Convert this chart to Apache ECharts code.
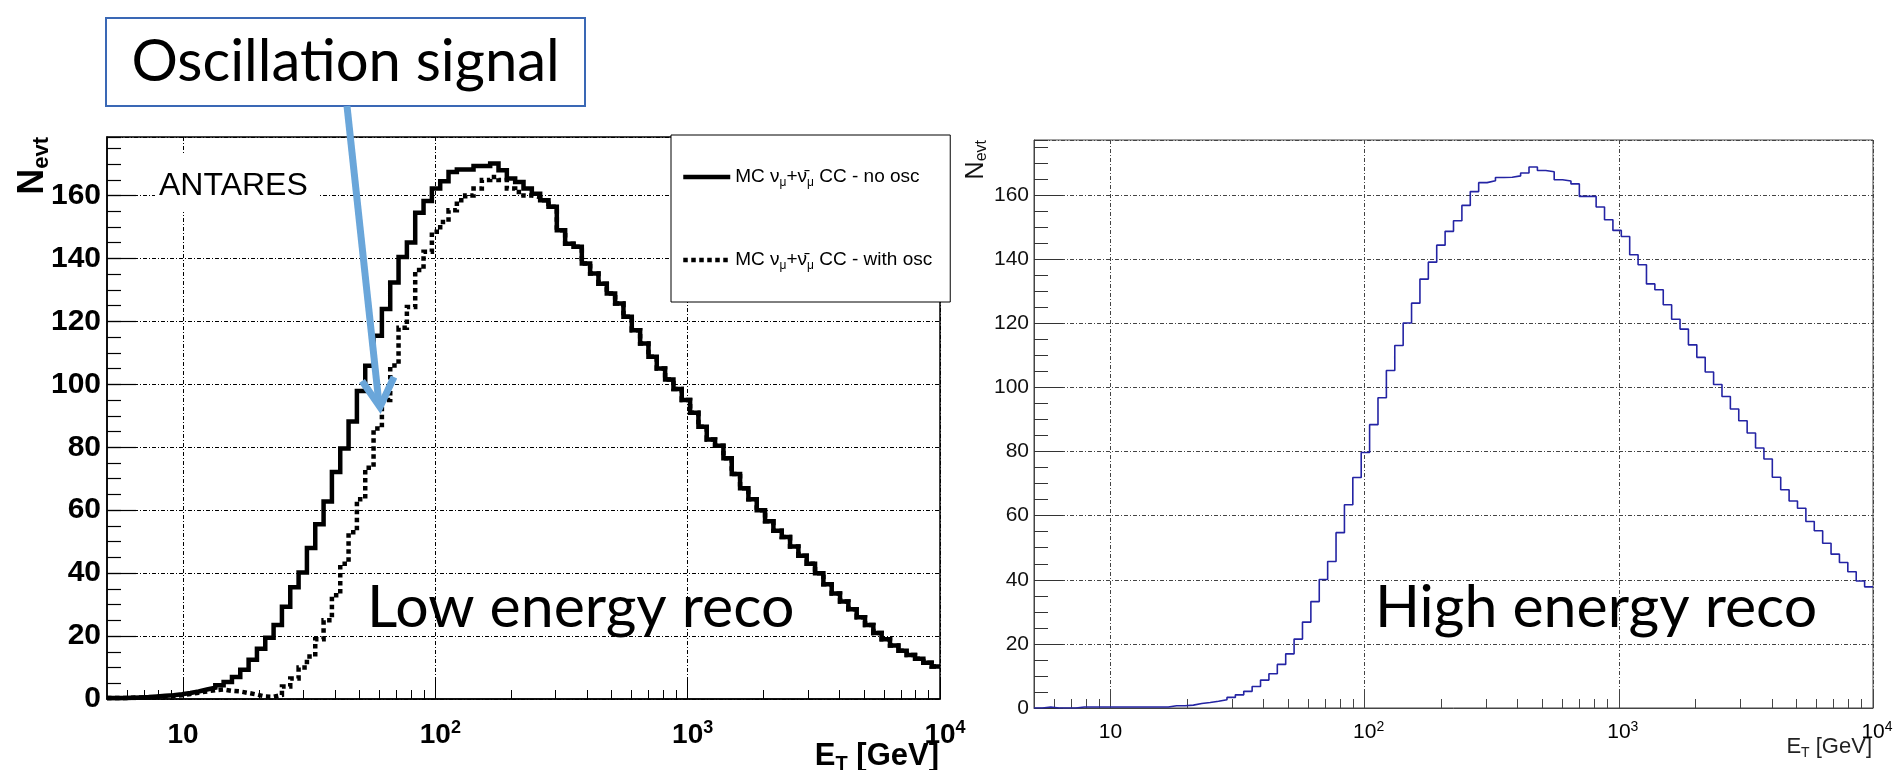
<!DOCTYPE html>
<html>
<head>
<meta charset="utf-8">
<script src="https://cdn.jsdelivr.net/npm/echarts/dist/echarts.min.js"></script>
<style>
html,body{margin:0;padding:0;background:#fff;}
#chart{width:1899px;height:770px;}
</style>
</head>
<body>
<div id="chart"></div>
<script>
// ---------- binning (100 log-spaced bins from 5 GeV to 10 TeV) ----------
const binCount = 100;
const eMin = 5;
const eMax = 10000;

// ---------- tick values ----------
const majorTicksX = [10, 100, 1000, 10000];
const minorTicksX = [6, 7, 8, 9, 20, 30, 40, 50, 60, 70, 80, 90,
  200, 300, 400, 500, 600, 700, 800, 900,
  2000, 3000, 4000, 5000, 6000, 7000, 8000, 9000];

// ---------- left panel: low energy reco ----------
const noOscName = 'MC \u03bd\u03bc+\u03bd\u0304\u03bc CC - no osc';
const withOscName = 'MC \u03bd\u03bc+\u03bd\u0304\u03bc CC - with osc';

const noOsc = [
  0.3, 0.3, 0.4, 0.5, 0.6, 0.8, 1.0, 1.2, 1.5, 1.9,
  2.4, 3.0, 3.6, 4.4, 5.4, 7.0, 9.3, 12.5, 16.0, 19.5,
  23.5, 29.3, 35.5, 40.2, 48.0, 55.5, 62.8, 72.1, 79.6, 88.2,
  97.9, 105.9, 115.4, 123.9, 132.4, 140.5, 145.1, 154.5, 158.3, 162.2,
  164.5, 167.5, 168.3, 168.3, 169.4, 169.4, 170.2, 168.0, 165.4, 164.3,
  162.2, 160.6, 158.5, 156.4, 149.0, 144.7, 143.7, 138.4, 135.2, 132.0,
  128.9, 125.7, 121.5, 117.2, 113.0, 108.8, 105.0, 101.5, 98.5, 95.0,
  91.0, 86.5, 82.5, 80.5, 76.5, 71.5, 67.0, 63.5, 60.0, 56.5,
  53.5, 51.5, 48.5, 45.5, 43.0, 40.0, 36.5, 33.5, 31.0, 28.5,
  26.0, 23.5, 21.0, 19.0, 17.0, 15.3, 14.0, 12.8, 11.5, 10.3
];

const withOsc = [
  0.3, 0.3, 0.4, 0.5, 0.5, 0.6, 0.8, 1.0, 1.2, 1.6,
  2.0, 2.4, 2.8, 3.0, 2.6, 2.4, 1.9, 1.4, 0.8, 0.7,
  1.3, 4.0, 6.5, 10.0, 13.5, 19.0, 25.0, 33.0, 43.0, 53.0,
  63.5, 73.5, 86.0, 95.0, 106.0, 118.0, 124.6, 136.3, 142.1, 148.5,
  151.6, 155.3, 158.5, 160.0, 162.2, 164.9, 165.9, 164.9, 162.2, 161.1,
  160.0, 159.5, 158.5, 156.4, 149.0, 144.7, 143.7, 138.4, 135.2, 132.0,
  128.9, 125.7, 121.5, 117.2, 113.0, 108.8, 105.0, 101.5, 98.5, 95.0,
  91.0, 86.5, 82.5, 80.5, 76.5, 71.5, 67.0, 63.5, 60.0, 56.5,
  53.5, 51.5, 48.5, 45.5, 43.0, 40.0, 36.5, 33.5, 31.0, 28.5,
  26.0, 23.5, 21.0, 19.0, 17.0, 15.3, 14.0, 12.8, 11.5, 10.3
];

// ---------- right panel: high energy reco ----------
const highEnergy = [
  0, 0.3, 0, 0, 0, 0.3, 0.3, 0.3, 0.3, 0.3,
  0.3, 0.3, 0.3, 0.3, 0.3, 0.3, 0.7, 0.7, 0.9, 1.4,
  1.7, 2.1, 2.6, 3.3, 4.1, 5.2, 6.7, 8.7, 10.7, 13.6,
  16.9, 21.5, 26.8, 33.2, 40.1, 45.7, 54.7, 63.4, 71.9, 79.7,
  88.4, 96.8, 105.3, 113.1, 120.1, 126.3, 133.8, 139.1, 144.4, 148.7,
  152.0, 156.8, 161.1, 163.9, 164.5, 165.5, 165.6, 166.0, 166.9, 168.8,
  167.7, 167.3, 164.8, 164.4, 163.5, 159.6, 159.6, 156.3, 152.3, 149.0,
  147.1, 141.4, 138.3, 132.3, 130.5, 125.8, 121.3, 118.2, 113.3, 109.4,
  104.8, 100.9, 97.2, 93.3, 89.6, 85.8, 81.1, 77.7, 72.0, 68.1,
  64.6, 62.3, 58.2, 55.3, 51.4, 48.0, 45.4, 42.5, 39.6, 37.8
];

// ---------- helpers ----------
const edges = Array.from({length: binCount + 1}, (_, i) => eMin * Math.pow(eMax / eMin, i / binCount));
function toSteps(vals) {
  const pts = vals.map((v, i) => [edges[i], v]);
  pts.push([edges[binCount], vals[vals.length - 1]]);
  return pts;
}

const FONT = "'Liberation Sans', Arial, Helvetica, sans-serif";
const DASHDOT = [4, 2, 1, 2];

function expFormatter(v) {
  const p = Math.round(Math.log10(v));
  if (p === 1) return '{b|10}';
  return '{sp| }{b|10}{s|' + p + '}';
}

const L = {left: 107, top: 137, width: 833, height: 562, ymax: 178.6};
const R = {left: 1034, top: 140, width: 839, height: 568, ymax: 177.2};

const richL = {
  b: {fontFamily: FONT, fontWeight: 'bold', fontSize: 28, lineHeight: 32, color: '#000'},
  s: {fontFamily: FONT, fontWeight: 'bold', fontSize: 18, lineHeight: 20, verticalAlign: 'top', color: '#000'},
  sp: {fontSize: 18, width: 10}
};
const richR = {
  b: {fontFamily: FONT, fontSize: 21, lineHeight: 24, color: '#000'},
  s: {fontFamily: FONT, fontSize: 14, lineHeight: 14, verticalAlign: 'top', color: '#000'},
  sp: {fontSize: 14, width: 8}
};

const chart = echarts.init(document.getElementById('chart'), null, {renderer: 'canvas'});

const option = {
  animation: false,
  backgroundColor: '#fff',
  grid: [
    {left: L.left, top: L.top, width: L.width, height: L.height, show: true, borderColor: '#000', borderWidth: 1.5, backgroundColor: 'transparent', containLabel: false, outerBoundsMode: 'none'},
    {left: R.left, top: R.top, width: R.width, height: R.height, show: true, borderColor: '#444', borderWidth: 1, backgroundColor: 'transparent', containLabel: false, outerBoundsMode: 'none'}
  ],
  legend: {
    data: [noOscName, withOscName],
    orient: 'vertical',
    left: 671, top: 135,
    itemWidth: 47, itemHeight: 14, itemGap: 59,
    padding: [30, 18, 30, 10],
    borderColor: '#000', borderWidth: 1, backgroundColor: '#fff',
    selectedMode: false,
    itemStyle: {opacity: 0},
    lineStyle: {width: 4.5},
    formatter: function (name) {
      const tail = name === noOscName ? 'no osc' : 'with osc';
      return 'MC \u03bd{m|\u03bc}+\u03bd\u0304{m|\u03bc} CC - ' + tail;
    },
    textStyle: {
      fontFamily: FONT, fontSize: 19, lineHeight: 24, color: '#000',
      rich: {m: {fontFamily: FONT, fontSize: 12, lineHeight: 14, verticalAlign: 'bottom', color: '#000'}}
    }
  },
  xAxis: [
    { // left major
      type: 'log', logBase: 10, gridIndex: 0, min: eMin, max: eMax, position: 'bottom',
      axisLine: {show: true, onZero: false, lineStyle: {color: '#000', width: 1.5}},
      axisTick: {show: true, inside: true, length: 18, customValues: majorTicksX, lineStyle: {color: '#000', width: 1}},
      axisLabel: {show: true, customValues: majorTicksX, margin: 20, formatter: expFormatter, rich: richL},
      splitLine: {show: true, lineStyle: {color: '#000', width: 1, type: DASHDOT}},
      minorTick: {show: false}, minorSplitLine: {show: false},
      name: '{e|E}{t|T}{e| [GeV]}', nameLocation: 'end', nameGap: -1, nameMoveOverlap: false,
      nameTextStyle: {align: 'right', verticalAlign: 'top', padding: [40, 0, 0, 0],
        rich: {e: {fontFamily: FONT, fontWeight: 'bold', fontSize: 31, lineHeight: 35, color: '#000'},
               t: {fontFamily: FONT, fontWeight: 'bold', fontSize: 20, lineHeight: 22, verticalAlign: 'bottom', color: '#000'}}}
    },
    { // left minor
      type: 'log', logBase: 10, gridIndex: 0, min: eMin, max: eMax, position: 'bottom',
      axisLine: {show: false, onZero: false},
      axisTick: {show: true, inside: true, length: 9, customValues: minorTicksX, lineStyle: {color: '#000', width: 1}},
      axisLabel: {show: false}, splitLine: {show: false}
    },
    { // right major
      type: 'log', logBase: 10, gridIndex: 1, min: eMin, max: eMax, position: 'bottom',
      axisLine: {show: true, onZero: false, lineStyle: {color: '#444', width: 1}},
      axisTick: {show: true, inside: true, length: 18, customValues: majorTicksX, lineStyle: {color: '#444', width: 1}},
      axisLabel: {show: true, customValues: majorTicksX, margin: 12, formatter: expFormatter, rich: richR},
      splitLine: {show: true, lineStyle: {color: '#444', width: 1, type: DASHDOT}},
      name: '{e|E}{t|T}{e| [GeV]}', nameLocation: 'end', nameGap: -1, nameMoveOverlap: false,
      nameTextStyle: {align: 'right', verticalAlign: 'top', padding: [26, 0, 0, 0],
        rich: {e: {fontFamily: FONT, fontSize: 22, lineHeight: 26, color: '#222'},
               t: {fontFamily: FONT, fontSize: 14, lineHeight: 16, verticalAlign: 'bottom', color: '#222'}}}
    },
    { // right minor
      type: 'log', logBase: 10, gridIndex: 1, min: eMin, max: eMax, position: 'bottom',
      axisLine: {show: false, onZero: false},
      axisTick: {show: true, inside: true, length: 9, customValues: minorTicksX, lineStyle: {color: '#444', width: 1}},
      axisLabel: {show: false}, splitLine: {show: false}
    }
  ],
  yAxis: [
    { // left major
      type: 'value', gridIndex: 0, min: 0, max: L.ymax, interval: 20, position: 'left',
      axisLine: {show: true, onZero: false, lineStyle: {color: '#000', width: 1.5}},
      axisTick: {show: true, inside: true, length: 29, lineStyle: {color: '#000', width: 1.2}},
      axisLabel: {show: true, showMaxLabel: false, margin: 6, fontFamily: FONT, fontWeight: 'bold', fontSize: 30, color: '#000'},
      splitLine: {show: true, lineStyle: {color: '#000', width: 1, type: DASHDOT}},
      name: '{n|N}{s|evt}', nameLocation: 'end', nameRotate: 90, nameGap: 0, nameMoveOverlap: false,
      nameTextStyle: {align: 'right', verticalAlign: 'bottom', padding: [0, 0, 54, 0],
        rich: {n: {fontFamily: FONT, fontWeight: 'bold', fontSize: 36, lineHeight: 40, color: '#000'},
               s: {fontFamily: FONT, fontWeight: 'bold', fontSize: 22, lineHeight: 30, verticalAlign: 'bottom', color: '#000'}}}
    },
    { // left minor
      type: 'value', gridIndex: 0, min: 0, max: L.ymax, interval: 5, position: 'left',
      axisLine: {show: false, onZero: false},
      axisTick: {show: true, inside: true, length: 14, lineStyle: {color: '#000', width: 1.2}},
      axisLabel: {show: false}, splitLine: {show: false}
    },
    { // right major
      type: 'value', gridIndex: 1, min: 0, max: R.ymax, interval: 20, position: 'left',
      axisLine: {show: true, onZero: false, lineStyle: {color: '#444', width: 1}},
      axisTick: {show: true, inside: true, length: 29, lineStyle: {color: '#333', width: 1}},
      axisLabel: {show: true, showMaxLabel: false, margin: 5, fontFamily: FONT, fontSize: 21, color: '#111'},
      splitLine: {show: true, lineStyle: {color: '#444', width: 1, type: DASHDOT}},
      name: '{n|N}{s|evt}', nameLocation: 'end', nameRotate: 90, nameGap: 0, nameMoveOverlap: false,
      nameTextStyle: {align: 'right', verticalAlign: 'bottom', padding: [0, 0, 44, 0],
        rich: {n: {fontFamily: FONT, fontSize: 25, lineHeight: 28, color: '#111'},
               s: {fontFamily: FONT, fontSize: 16, lineHeight: 20, verticalAlign: 'bottom', color: '#111'}}}
    },
    { // right minor
      type: 'value', gridIndex: 1, min: 0, max: R.ymax, interval: 5, position: 'left',
      axisLine: {show: false, onZero: false},
      axisTick: {show: true, inside: true, length: 14, lineStyle: {color: '#333', width: 1}},
      axisLabel: {show: false}, splitLine: {show: false}
    }
  ],
  series: [
    {
      name: noOscName, type: 'line', xAxisIndex: 0, yAxisIndex: 0, step: 'end',
      data: toSteps(noOsc), symbol: 'none', showSymbol: false, silent: true,
      lineStyle: {color: '#000', width: 4.5, type: 'solid', cap: 'butt', join: 'miter'},
      itemStyle: {color: '#000'}, z: 3
    },
    {
      name: withOscName, type: 'line', xAxisIndex: 0, yAxisIndex: 0, step: 'end',
      data: toSteps(withOsc), symbol: 'none', showSymbol: false, silent: true,
      lineStyle: {color: '#000', width: 4.5, type: [4.5, 3.5], cap: 'butt', join: 'miter'},
      itemStyle: {color: '#000'}, z: 4
    },
    {
      name: 'High energy reco', type: 'line', xAxisIndex: 2, yAxisIndex: 2, step: 'end',
      data: toSteps(highEnergy), symbol: 'none', showSymbol: false, silent: true,
      lineStyle: {color: '#2424a4', width: 1.6, type: 'solid'},
      itemStyle: {color: '#2424a4'}, z: 3
    }
  ],
  graphic: [
    // ANTARES label with white pad
    {type: 'rect', z: 50, shape: {x: 155, y: 153, width: 165, height: 59}, style: {fill: '#fff'}},
    {type: 'text', z: 51, style: {text: 'ANTARES', x: 159, y: 186, font: "32px 'Liberation Sans', Arial, sans-serif",
      fill: '#000', align: 'left', verticalAlign: 'middle', textAlign: 'left', textVerticalAlign: 'middle'}},
    // Low / High energy reco
    {type: 'text', z: 52, style: {text: 'Low energy reco', x: 367, y: 608, font: "59px Lato, 'Open Sans', sans-serif",
      fill: '#000', align: 'left', verticalAlign: 'middle', textAlign: 'left', textVerticalAlign: 'middle'}},
    {type: 'text', z: 52, style: {text: 'High energy reco', x: 1375, y: 608, font: "59px Lato, 'Open Sans', sans-serif",
      fill: '#000', align: 'left', verticalAlign: 'middle', textAlign: 'left', textVerticalAlign: 'middle'}},
    // Oscillation signal box
    {type: 'rect', z: 60, shape: {x: 106, y: 18, width: 479, height: 88}, style: {fill: '#fff', stroke: '#3a68b5', lineWidth: 2}},
    {type: 'text', z: 61, style: {text: 'Oscillation signal', x: 345.6, y: 62, font: "58px Lato, 'Open Sans', sans-serif",
      fill: '#000', align: 'center', verticalAlign: 'middle', textAlign: 'center', textVerticalAlign: 'middle'}},
    // arrow
    {type: 'polyline', z: 62, shape: {points: [[347, 106], [379, 404]]}, style: {stroke: '#6aa6da', lineWidth: 7, fill: null}},
    {type: 'polyline', z: 62, shape: {points: [[362, 381], [380, 407], [394, 377]]}, style: {stroke: '#6aa6da', lineWidth: 7, fill: null, lineJoin: 'miter'}}
  ]
};

chart.setOption(option);
</script>
</body>
</html>
